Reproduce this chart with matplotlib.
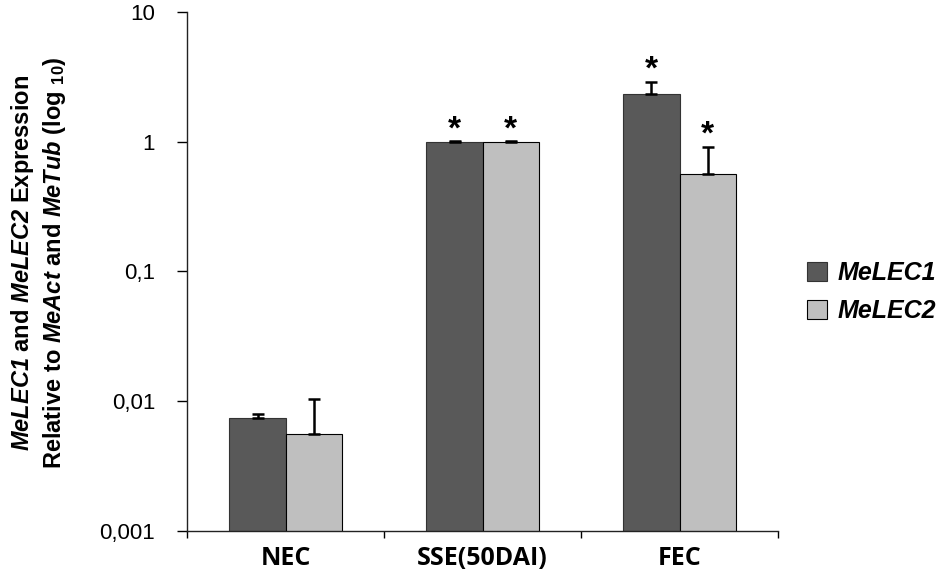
import matplotlib
matplotlib.use("Agg")
import matplotlib.pyplot as plt
import numpy as np
from matplotlib.ticker import FixedLocator, NullLocator

categories = ["NEC", "SSE(50DAI)", "FEC"]
series_names = ["MeLEC1", "MeLEC2"]
melec1 = [0.0074, 1.0, 2.34]
melec1_err = [0.0006, 0.01, 0.56]
melec2 = [0.0056, 1.0, 0.565]
melec2_err = [0.0048, 0.01, 0.35]
melec1_sig = [False, True, True]
melec2_sig = [False, True, True]
ytick_vals = [0.001, 0.01, 0.1, 1, 10]
ytick_labels = ["0,001", "0,01", "0,1", "1", "10"]

plt.rcParams['mathtext.fontset'] = 'custom'
plt.rcParams['mathtext.bf'] = 'Liberation Sans:bold'
plt.rcParams['mathtext.it'] = 'Liberation Sans:italic'
plt.rcParams['mathtext.rm'] = 'Liberation Sans'
try:
    plt.rcParams['mathtext.bfit'] = 'Liberation Sans:bold:italic'
except KeyError:
    pass

fig = plt.figure(figsize=(9.5, 5.88), dpi=100)
ax = fig.add_axes([0.197, 0.097, 0.622, 0.8826])

x = np.arange(len(categories))
w = 0.285
colors = ["#595959", "#bfbfbf"]
b1 = ax.bar(x - w/2, melec1, w, color=colors[0], edgecolor="#333333", linewidth=0.8,
            yerr=[np.zeros(3), melec1_err], capsize=4,
            error_kw=dict(ecolor="black", elinewidth=1.8, capthick=1.8), label=series_names[0])
b2 = ax.bar(x + w/2, melec2, w, color=colors[1], edgecolor="black", linewidth=0.8,
            yerr=[np.zeros(3), melec2_err], capsize=4,
            error_kw=dict(ecolor="black", elinewidth=1.8, capthick=1.8), label=series_names[1])

for i in range(len(categories)):
    if melec1_sig[i]:
        ax.annotate("*", (x[i] - w/2, melec1[i] + melec1_err[i]), xytext=(0, -3),
                    textcoords="offset points", ha="center", va="bottom",
                    fontsize=24, fontweight="bold", family="Liberation Sans")
    if melec2_sig[i]:
        ax.annotate("*", (x[i] + w/2, melec2[i] + melec2_err[i]), xytext=(0, -3),
                    textcoords="offset points", ha="center", va="bottom",
                    fontsize=24, fontweight="bold", family="Liberation Sans")

ax.set_yscale("log")
ax.set_ylim(0.001, 10)
ax.set_xlim(-0.5, len(categories) - 0.5)
ax.yaxis.set_major_locator(FixedLocator(ytick_vals))
ax.yaxis.set_minor_locator(NullLocator())
ax.set_yticklabels(ytick_labels, fontsize=16, family="Liberation Sans")
ax.tick_params(axis="y", direction="out", length=7, width=1, pad=16)

ax.set_xticks(x)
ax.set_xticklabels(categories, fontsize=18, fontweight="bold", family="Open Sans")
ax.set_xticks(np.arange(len(categories) + 1) - 0.5, minor=True)
ax.tick_params(axis="x", which="major", length=0, pad=11)
ax.tick_params(axis="x", which="minor", direction="out", length=5, width=1)

for s in ["top", "right"]:
    ax.spines[s].set_visible(False)
for s in ["left", "bottom"]:
    ax.spines[s].set_linewidth(1)
    ax.spines[s].set_color("#222222")

fig.text(0.024, 0.553, r"$\mathbfit{MeLEC1}$ and $\mathbfit{MeLEC2}$ Expression",
         rotation=90, ha="center", va="center", fontsize=17, fontweight="bold",
         family="Liberation Sans")
fig.text(0.057, 0.553, r"Relative to $\mathbfit{MeAct}$ and $\mathbfit{MeTub}$ (log $_{\mathbf{10}}$)",
         rotation=90, ha="center", va="center", fontsize=17, fontweight="bold",
         family="Liberation Sans")

leg = fig.legend(handles=[b1, b2], labels=series_names, loc="center left",
                 bbox_to_anchor=(0.849, 0.503), frameon=False, borderpad=0,
                 borderaxespad=0, handlelength=0.8, handleheight=0.8,
                 handletextpad=0.45, labelspacing=0.55,
                 prop=dict(family="Liberation Sans", weight="bold", style="italic", size=18))

fig.savefig("out.png", dpi=100)
